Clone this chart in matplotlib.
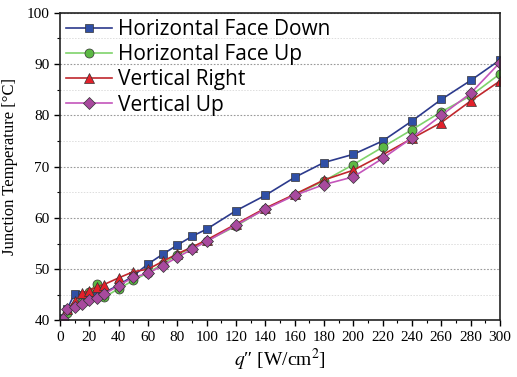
import matplotlib
matplotlib.use("Agg")
import matplotlib.pyplot as plt
from matplotlib.ticker import MultipleLocator

plt.rcParams["mathtext.fontset"] = "stix"

q = [2, 5, 10, 15, 20, 25, 30, 40, 50, 60, 70, 80, 90, 100, 120, 140, 160, 180, 200, 220, 240, 260, 280, 300]
face_down = [40.5, 42.3, 45.2, 45.0, 45.0, 45.1, 45.4, 46.9, 48.7, 51.0, 52.9, 54.7, 56.4, 57.8, 61.4, 64.4, 67.9, 70.8, 72.4, 75.0, 78.9, 83.1, 86.8, 90.8]
face_up = [40.2, 41.4, 42.8, 43.6, 45.6, 47.2, 44.5, 46.2, 47.8, 49.3, 51.0, 52.8, 54.2, 55.5, 58.4, 61.8, 64.5, 67.2, 70.4, 73.8, 77.2, 80.7, 83.8, 88.1]
vert_right = [40.3, 42.2, 43.7, 45.3, 45.8, 46.6, 47.0, 48.3, 49.5, 50.0, 51.5, 53.0, 54.3, 55.7, 58.8, 61.9, 64.6, 67.4, 69.3, 72.3, 75.5, 78.6, 82.8, 86.7]
vert_up = [40.2, 42.2, 42.6, 43.2, 44.0, 44.3, 45.1, 46.8, 48.4, 49.2, 50.7, 52.3, 53.9, 55.4, 58.6, 61.7, 64.4, 66.5, 68.0, 71.6, 75.6, 80.0, 84.3, 90.3]
labels = ["Horizontal Face Down", "Horizontal Face Up", "Vertical Right", "Vertical Up"]

fig = plt.figure(figsize=(5.17, 3.77), dpi=100)
ax = fig.add_axes([0.116, 0.150, 0.851, 0.816])

styles = [
    (face_down, "s", "#2c3a8c", "#2f4fa6", 5.8),
    (face_up, "o", "#7fd36b", "#5cb844", 6.5),
    (vert_right, "^", "#c0272d", "#e3202a", 6.8),
    (vert_up, "D", "#c455bb", "#a84a9e", 5.8),
]
for (ys, m, lc, fc, ms), lab in zip(styles, labels):
    ax.plot(q, ys, marker=m, color=lc, markerfacecolor=fc, markeredgecolor="#333333",
            markeredgewidth=0.5, markersize=ms, linewidth=1.2, label=lab)

ax.set_xlim(0, 300)
ax.set_ylim(40, 100)
ax.xaxis.set_major_locator(MultipleLocator(20))
ax.xaxis.set_minor_locator(MultipleLocator(10))
ax.yaxis.set_major_locator(MultipleLocator(10))
ax.yaxis.set_minor_locator(MultipleLocator(5))
ax.grid(True, axis="y", which="major", linestyle=(0, (1.5, 1.5)), color="#999999", linewidth=0.8)
ax.grid(True, axis="y", which="minor", linestyle=(0, (1.5, 1.5)), color="#dddddd", linewidth=0.7)
ax.set_axisbelow(True)
ax.tick_params(which="major", direction="out", length=4, width=1, labelsize=11)
ax.tick_params(which="minor", direction="out", length=2.5, width=0.8)
for lbl in ax.get_xticklabels() + ax.get_yticklabels():
    lbl.set_fontfamily("Liberation Serif")
for s in ax.spines.values():
    s.set_linewidth(1.2)
    s.set_color("#222222")

ax.set_ylabel("Junction Temperature [°C]", fontfamily="Liberation Serif", fontsize=12, labelpad=6)
ax.set_xlabel(r"$q$″ [W/cm$^2$]", fontfamily="Liberation Serif", fontsize=14, labelpad=2)

leg = ax.legend(loc="upper left", frameon=False, prop={"family": "Open Sans", "size": 15},
                handlelength=2.2, handletextpad=0.3, labelspacing=0.2,
                borderaxespad=0.1, borderpad=0.2)

fig.savefig("out.png", dpi=100)
